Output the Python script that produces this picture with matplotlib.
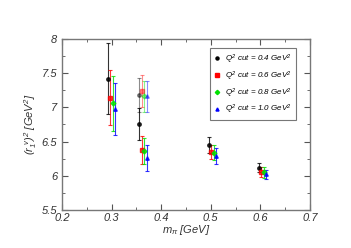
import matplotlib
matplotlib.use("Agg")
import matplotlib.pyplot as plt
from matplotlib.ticker import MultipleLocator, FormatStrFormatter
from matplotlib.lines import Line2D

# m_pi positions per Q^2 cut (slightly offset for visibility)
x_04 = [0.292, 0.356, 0.496, 0.597]
x_06 = [0.297, 0.361, 0.501, 0.602]
x_08 = [0.302, 0.366, 0.506, 0.607]
x_10 = [0.307, 0.371, 0.511, 0.612]

y_04 = [7.42, 6.76, 6.45, 6.12]
y_06 = [7.14, 6.38, 6.35, 6.06]
y_08 = [7.06, 6.37, 6.34, 6.05]
y_10 = [6.98, 6.26, 6.29, 6.02]

err_04 = [0.52, 0.23, 0.115, 0.07]
err_06 = [0.40, 0.20, 0.105, 0.07]
err_08 = [0.40, 0.19, 0.115, 0.075]
err_10 = [0.38, 0.19, 0.11, 0.065]

# second (faded) set at the 0.36 GeV ensemble
y2_alt = [7.18, 7.24, 7.16, 7.16]
err2_alt = [0.25, 0.24, 0.23, 0.23]

labels = [r"$Q^2$ cut = 0.4 GeV$^2$", r"$Q^2$ cut = 0.6 GeV$^2$",
          r"$Q^2$ cut = 0.8 GeV$^2$", r"$Q^2$ cut = 1.0 GeV$^2$"]
colors = ["black", "red", "#00e000", "blue"]
markers = ["o", "s", "D", "^"]

plt.rcParams["font.family"] = ["Liberation Sans", "DejaVu Sans"]
plt.rcParams["font.style"] = "italic"
plt.rcParams["mathtext.fontset"] = "custom"
plt.rcParams["mathtext.it"] = "Liberation Sans:italic"
plt.rcParams["mathtext.rm"] = "Liberation Sans:italic"

fig = plt.figure(figsize=(3.51, 2.48), dpi=100)
ax = fig.add_axes([0.177, 0.153, 0.706, 0.690])

xs = [x_04, x_06, x_08, x_10]
ys = [y_04, y_06, y_08, y_10]
es = [err_04, err_06, err_08, err_10]
handles = []
for i in range(4):
    ax.errorbar(xs[i], ys[i], yerr=es[i], fmt=markers[i], color=colors[i],
                ms=2.5, elinewidth=0.8, capsize=1.5, capthick=0.8, alpha=0.8)
    ax.errorbar([xs[i][1]], [y2_alt[i]], yerr=[err2_alt[i]], fmt=markers[i],
                color=colors[i], ms=2.5, elinewidth=0.8, capsize=1.5,
                capthick=0.8, alpha=0.45)
    handles.append(Line2D([], [], ls="none", marker=markers[i], color=colors[i],
                          ms=2.2, label=labels[i]))

ax.set_xlim(0.2, 0.7)
ax.set_ylim(5.5, 8)
ax.xaxis.set_major_locator(MultipleLocator(0.1))
ax.xaxis.set_minor_locator(MultipleLocator(0.05))
ax.yaxis.set_major_locator(MultipleLocator(0.5))
ax.yaxis.set_minor_locator(MultipleLocator(0.25))
ax.xaxis.set_major_formatter(FormatStrFormatter("%g"))
ax.yaxis.set_major_formatter(FormatStrFormatter("%g"))
ax.tick_params(which="both", direction="in", top=True, right=True,
               labelsize=8, colors="#555555", labelcolor="#333333")
ax.tick_params(which="major", length=4)
ax.tick_params(which="minor", length=2)
ax.tick_params(axis="x", pad=2)
for s in ax.spines.values():
    s.set_color("#777777")
    s.set_linewidth(1.0)

ax.set_xlabel(r"$m_\pi$ [GeV]", fontsize=8, labelpad=0, color="#333333")
ax.set_ylabel(r"$(r_1^{\ v})^2$ [GeV$^2$]", fontsize=8, labelpad=2, color="#333333")

leg = ax.legend(handles=handles, loc="upper left", bbox_to_anchor=(0.597, 0.945),
                fontsize=5.8, handlelength=0.6, handletextpad=0.8, borderpad=0.5,
                labelspacing=0.45, fancybox=False, borderaxespad=0)
leg.get_frame().set_edgecolor("#777777")
leg.get_frame().set_linewidth(0.8)
leg.get_frame().set_alpha(1)

fig.savefig("out.png", dpi=100)
